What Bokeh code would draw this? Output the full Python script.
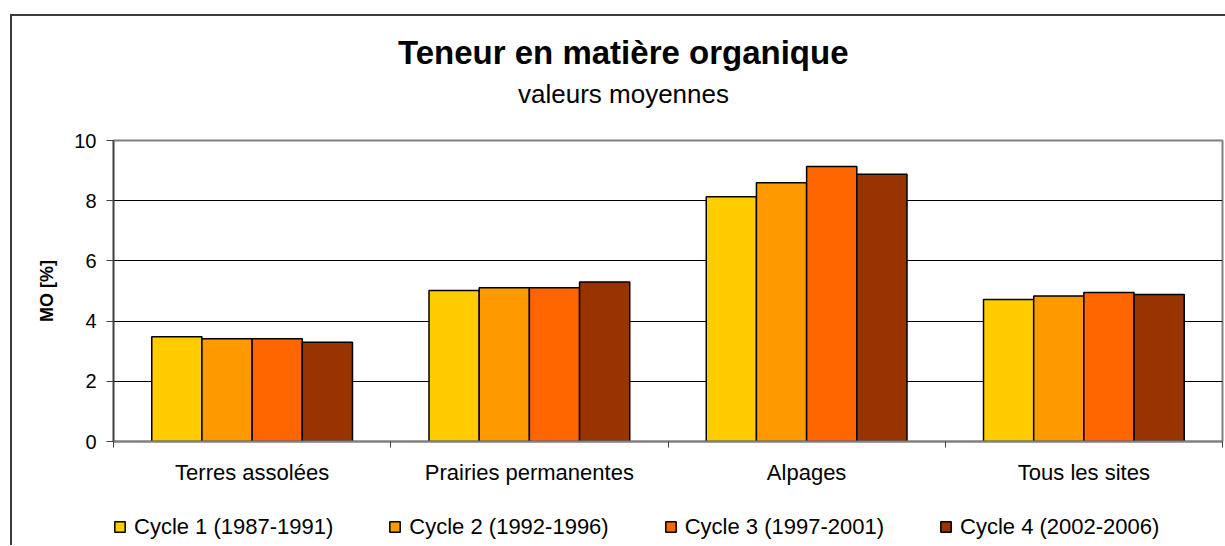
from bokeh.plotting import figure
from bokeh.layouts import column
from bokeh.models import (Range1d, FixedTicker, Legend, LegendItem, Title, ColumnDataSource)
from bokeh.transform import dodge
from bokeh.embed import file_html
from bokeh.resources import INLINE

categories = ["Terres assolées", "Prairies permanentes", "Alpages", "Tous les sites"]
series_names = ["Cycle 1 (1987-1991)", "Cycle 2 (1992-1996)",
                "Cycle 3 (1997-2001)", "Cycle 4 (2002-2006)"]
cycle1 = [3.48, 5.02, 8.13, 4.72]
cycle2 = [3.41, 5.11, 8.60, 4.83]
cycle3 = [3.41, 5.11, 9.14, 4.95]
cycle4 = [3.30, 5.30, 8.88, 4.88]
colors = ["#FFCC00", "#FF9900", "#FF6600", "#993300"]
y_ticks = [0, 2, 4, 6, 8, 10]
title_text = "Teneur en matière organique"
subtitle_text = "valeurs moyennes"
y_label = "MO [%]"

FONT = "Liberation Sans"

n = len(categories)
centers = [i + 0.5 for i in range(n)]
source = ColumnDataSource(dict(xc=centers, c1=cycle1, c2=cycle2, c3=cycle3, c4=cycle4))

p = figure(x_range=Range1d(0, n), y_range=Range1d(0, 10),
           width=1213, height=477, output_backend="svg", toolbar_location=None,
           min_border_left=101, min_border_right=3, min_border_top=124, min_border_bottom=52)
p.background_fill_color = "white"
p.border_fill_color = "white"
p.outline_line_color = "#808080"
p.outline_line_width = 2

bw = 0.181
offsets = [-1.5 * bw, -0.5 * bw, 0.5 * bw, 1.5 * bw]
bar_style = dict(line_color="black", line_width=1.5)
for col, off, color in zip(["c1", "c2", "c3", "c4"], offsets, colors):
    p.vbar(x=dodge("xc", off), top=col, width=bw, source=source, fill_color=color, **bar_style)

# grid
p.xgrid.visible = False
p.ygrid.ticker = FixedTicker(ticks=y_ticks[1:-1])
p.ygrid.grid_line_color = "black"
p.ygrid.grid_line_width = 1

# y axis
yax = p.yaxis[0]
yax.ticker = FixedTicker(ticks=y_ticks)
yax.axis_line_color = "#404040"
yax.axis_line_width = 1.5
yax.major_tick_line_color = "#404040"
yax.major_tick_out = 7
yax.major_tick_in = 0
yax.minor_tick_line_color = None
yax.major_label_standoff = 10
yax.major_label_text_font = FONT
yax.major_label_text_font_size = "20px"
yax.major_label_text_color = "black"
yax.axis_label = y_label
yax.axis_label_text_font = FONT
yax.axis_label_text_font_size = "18px"
yax.axis_label_text_font_style = "bold"
yax.axis_label_text_color = "black"
yax.axis_label_standoff = 14

# x axis: labels at category centres, ticks at category boundaries
xax = p.xaxis[0]
xax.ticker = FixedTicker(ticks=centers, minor_ticks=list(range(n + 1)))
xax.major_label_overrides = {c: lab for c, lab in zip(centers, categories)}
xax.axis_line_color = "#808080"
xax.axis_line_width = 2
xax.major_tick_line_color = None
xax.minor_tick_line_color = "#404040"
xax.minor_tick_out = 6
xax.minor_tick_in = 0
xax.major_label_standoff = 12
xax.major_label_text_font = FONT
xax.major_label_text_font_size = "22px"
xax.major_label_text_color = "black"

# titles (spacer closest to the frame, then subtitle, then title)
p.add_layout(Title(text=" ", text_font_size="10px", standoff=16), "above")
p.add_layout(Title(text=subtitle_text, align="left", offset=404.5, standoff=6,
                   text_font=FONT, text_font_size="26px", text_font_style="normal",
                   text_color="black"), "above")
p.add_layout(Title(text=title_text, align="left", offset=284.5, standoff=6,
                   text_font=FONT, text_font_size="33px", text_font_style="bold",
                   text_color="black"), "above")

# legend strip below the chart (same series, renderers hidden, only the legend shows)
q = figure(width=1213, height=52, x_range=Range1d(0, n), y_range=Range1d(0, 10),
           output_backend="svg", toolbar_location=None,
           x_axis_location=None, y_axis_location=None,
           min_border_left=0, min_border_right=0, min_border_top=0, min_border_bottom=0)
q.outline_line_color = None
q.xgrid.visible = False
q.ygrid.visible = False
legend_renderers = []
for col, off, color in zip(["c1", "c2", "c3", "c4"], offsets, colors):
    r = q.vbar(x=dodge("xc", off), top=col, width=bw, source=source,
               fill_color=color, visible=False, **bar_style)
    legend_renderers.append(r)
items = [LegendItem(label=nm, renderers=[r]) for nm, r in zip(series_names, legend_renderers)]
legend = Legend(items=items, location=(0, 5.5), orientation="horizontal",
                glyph_width=13, glyph_height=13, label_standoff=8, spacing=55,
                padding=0, margin=0, border_line_color=None, background_fill_alpha=0,
                inactive_fill_alpha=0, click_policy="none",
                label_text_font=FONT, label_text_font_size="22px", label_text_color="black")
q.add_layout(legend, "center")

layout = column(p, q, spacing=0)
layout.styles = {"margin-left": "10px", "margin-top": "14px",
                 "border-left": "2px solid #3a3a3a", "border-top": "2px solid #3a3a3a"}

open("out.html", "w").write(file_html(layout, INLINE))
